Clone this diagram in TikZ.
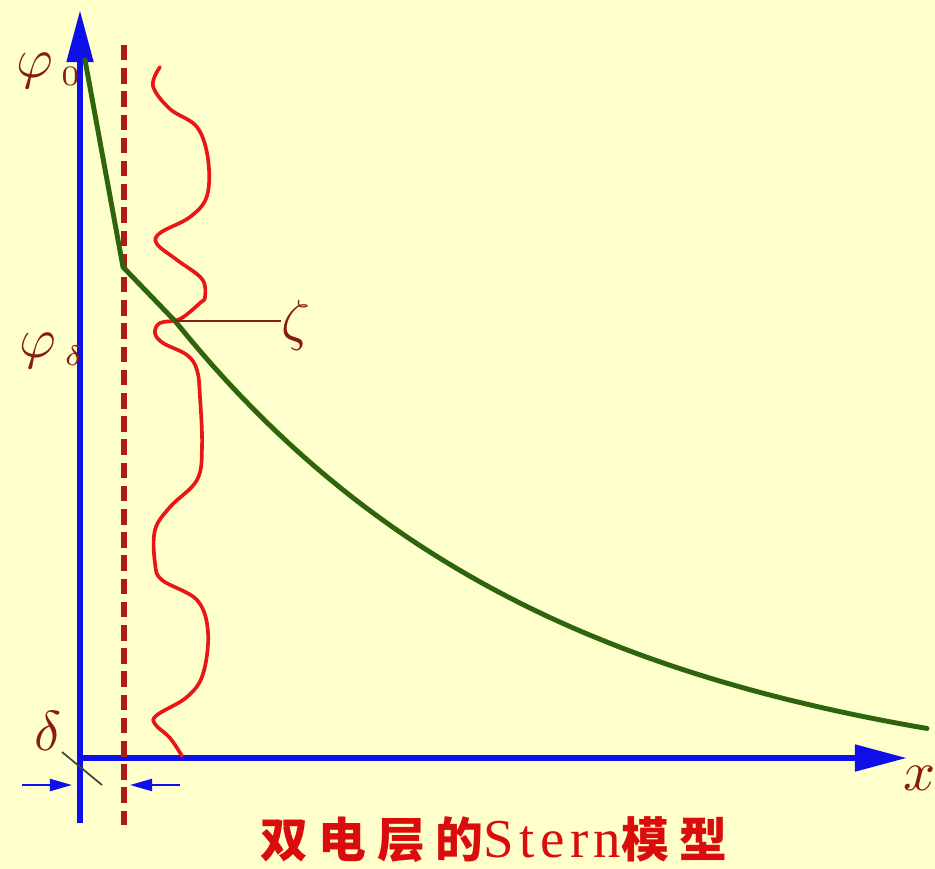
\documentclass[tikz,border=0pt]{standalone}
\usepackage{graphicx}
\usepackage{fontspec}
\setmainfont{Liberation Serif}
\newfontfamily\capfont[LetterSpace=10]{Liberation Serif}
\newfontfamily\cjk[LetterSpace=22]{Noto Sans CJK SC}
\usetikzlibrary{arrows.meta}
\definecolor{sbg}{RGB}{255,255,204}
\definecolor{saxis}{RGB}{15,15,235}
\definecolor{spot}{RGB}{46,100,12}
\definecolor{sdiff}{RGB}{232,22,22}
\definecolor{splane}{RGB}{172,26,26}
\definecolor{slabel}{RGB}{135,28,20}
\definecolor{scap}{RGB}{218,12,12}
\newcommand{\biglbl}[1]{\scalebox{4}{#1}}

\begin{document}
\begin{tikzpicture}[x=0.025cm, y=-0.025cm,
    axis/.style={line width=4.3pt, draw=saxis, -{Triangle[length=1.3cm, width=0.64cm]}},
    gaparrow/.style={line width=1.5pt, draw=saxis, -{Triangle[length=0.55cm, width=0.3cm]}},
    potential/.style={line width=3.5pt, draw=spot, line join=round, line cap=round},
    diffuse/.style={line width=2.6pt, draw=sdiff, line cap=round},
    plane/.style={line width=3.6pt, draw=splane, dash pattern=on 11pt off 5.5pt},
    tick/.style={line width=1.2pt, draw=black!75},
    zetaline/.style={line width=1.6pt, draw=slabel},
    lbl/.style={text=slabel, inner sep=0pt},
    captext/.style={text=scap, inner sep=0pt}
  ]
  \path[use as bounding box, fill=sbg] (0,0) rectangle (935,869);

  % axes
  \coordinate (O) at (80,758);
  \coordinate (ytop) at (80,10);
  \coordinate (ybot) at (80,823);
  \coordinate (xend) at (907,758);
  \draw[axis] (ybot) -- (ytop);
  \draw[axis] (O) -- (xend);

  % Stern plane
  \coordinate (ptop) at (124,45);
  \coordinate (pbot) at (124,825);
  \draw[plane] (ptop) -- (pbot);

  % diffuse layer boundary
  \draw[diffuse] plot[smooth, tension=0.6] coordinates {
    (160,67) (153,86) (170,109) (197,127) (208,159) (207,196) (190,217)
    (160,233) (157,244) (177,260) (202,279) (205,297) (200,303) (180,319)
    (160,323) (155,333) (163,343) (187,355) (197,370) (200,397) (202,447)
    (197,480) (170,507) (155,530) (155,563) (162,580) (197,600) (208,632)
    (203,674) (187,697) (157,715) (155,724) (170,738) (182,756)};

  % potential
  \coordinate (phistart) at (85,60);
  \coordinate (kink) at (123,267);
  \coordinate (cross) at (175,321);
  \draw[potential] (phistart) -- (kink) -- (cross)
    -- plot[domain=175:927, samples=60] (\x, {793.8-472.8*exp(-(\x-175)/380)});

  % labels
  \node[lbl, anchor=base west] (phi0) at (16,77) {\biglbl{$\varphi_{\mkern3mu\scriptscriptstyle 0}$}};
  \node[lbl, anchor=base west] (phid) at (19,357) {\biglbl{$\varphi_{\mkern3mu\scriptscriptstyle\delta}$}};
  \node[lbl, anchor=west] (zeta) at (281,325) {\biglbl{$\zeta$}};
  \draw[zetaline] (cross) -- (cross -| zeta.west);
  \node[lbl] (delta) at (48,731) {\biglbl{$\delta$}};
  \node[lbl, anchor=base west] (xlab) at (903,790) {\biglbl{$x$}};

  % thickness delta
  \coordinate (tka) at (62,752);
  \coordinate (tkb) at (102,785);
  \draw[tick] (tka) -- (tkb);
  \coordinate (gla) at (22,785);
  \coordinate (glb) at (72,785);
  \coordinate (gra) at (180,785);
  \coordinate (grb) at (130,785);
  \draw[gaparrow] (gla) -- (glb);
  \draw[gaparrow] (gra) -- (grb);

  \node[captext] (cap) at (494,840) {{\fontsize{34}{38}\selectfont\bfseries\cjk 双电层的}{\fontsize{39}{42}\selectfont\capfont Stern}{\fontsize{34}{38}\selectfont\bfseries\cjk 模型}};
\end{tikzpicture}
\end{document}
